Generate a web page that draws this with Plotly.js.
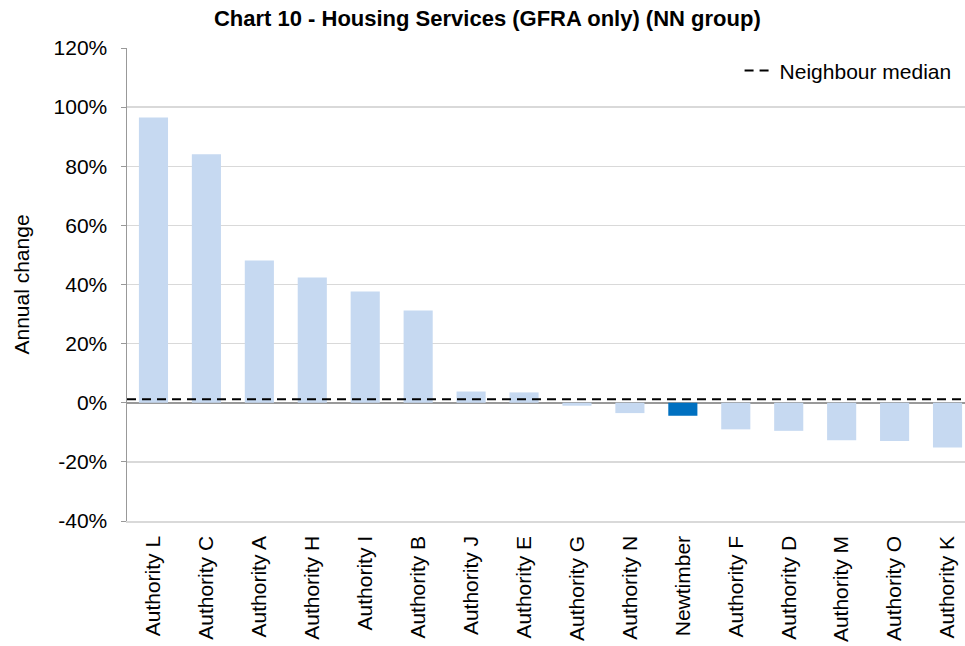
<!DOCTYPE html>
<html>
<head>
<meta charset="utf-8">
<script src="https://cdn.plot.ly/plotly-3.0.1.min.js"></script>
<style>html,body{margin:0;padding:0;background:#fff;}#chart{width:965px;height:646px;}</style>
</head>
<body>
<div id="chart"></div>
<script>
const categories = ["Authority L","Authority C","Authority A","Authority H","Authority I","Authority B","Authority J","Authority E","Authority G","Authority N","Newtimber","Authority F","Authority D","Authority M","Authority O","Authority K"];
const annualChange = [96.5, 84.1, 48.1, 42.4, 37.6, 31.2, 3.8, 3.5, -1.0, -3.5, -4.4, -9.0, -9.5, -12.7, -12.9, -15.1];
const highlight = "Newtimber";
const neighbourMedian = 1.2;
const yTicks = [-40, -20, 0, 20, 40, 60, 80, 100, 120];
const yTickLabels = ["-40%","-20%","0%","20%","40%","60%","80%","100%","120%"];

const barColors = categories.map(c => c === highlight ? "#0070C0" : "#C6D9F1");
const font = "Liberation Sans, Arial, sans-serif";

const traces = [
  {
    type: "bar",
    x: categories,
    y: annualChange,
    marker: {color: barColors, line: {width: 0}},
    showlegend: false,
    hoverinfo: "x+y"
  },
  {
    type: "scatter",
    mode: "lines",
    name: "Neighbour median",
    x: [0, 1],
    y: [neighbourMedian, neighbourMedian],
    xaxis: "x2",
    line: {color: "#000", width: 2, dash: "9px,6px"}
  }
];

const layout = {
  width: 965, height: 646,
  margin: {l: 127, r: 0, t: 48, b: 125},
  paper_bgcolor: "#fff", plot_bgcolor: "#fff",
  font: {family: font, size: 21, color: "#000"},
  title: {text: "<b>Chart 10 - Housing Services (GFRA only) (NN group)</b>", font: {family: font, size: 22, color: "#000"}, x: 0.505, xref: "container", y: 0.972, yref: "container", yanchor: "middle"},
  bargap: 0.45,
  xaxis: {
    type: "category",
    range: [-0.5, 15.33],
    tickangle: -90,
    ticks: "",
    showgrid: false,
    showline: true,
    linecolor: "#d9d9d9",
    linewidth: 1.5,
    zeroline: false,
    tickfont: {family: font, size: 21, color: "#000"},
    ticklabelstandoff: 5
  },
  xaxis2: {overlaying: "x", range: [0, 1], visible: false, fixedrange: true},
  yaxis: {
    range: [-40, 120],
    tickvals: yTicks,
    ticktext: yTickLabels,
    showgrid: true,
    gridcolor: "#d9d9d9",
    gridwidth: 1.5,
    zeroline: true,
    zerolinecolor: "#999",
    zerolinewidth: 2,
    showline: true,
    linecolor: "#999",
    linewidth: 1.5,
    ticks: "outside",
    ticklen: 5,
    tickcolor: "#999",
    tickfont: {family: font, size: 21, color: "#000"},
    ticklabelstandoff: 9,
    title: {text: "Annual change", font: {family: font, size: 21, color: "#000"}, standoff: 18}
  },
  legend: {
    x: 0.731, xanchor: "left",
    y: 0.995, yanchor: "top",
    bgcolor: "rgba(0,0,0,0)",
    font: {family: font, size: 21, color: "#000"}
  },
  showlegend: true
};

Plotly.newPlot("chart", traces, layout, {displayModeBar: false, staticPlot: true});
</script>
</body>
</html>
